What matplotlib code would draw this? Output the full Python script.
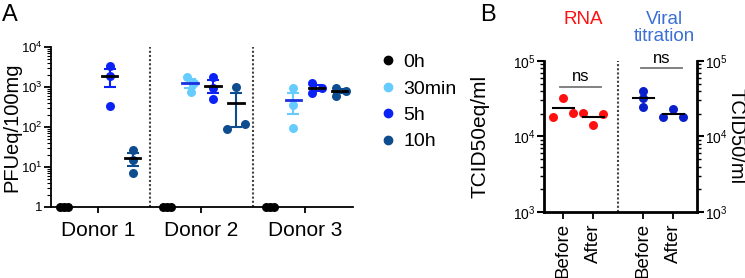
import matplotlib.pyplot as plt
import numpy as np
from matplotlib.lines import Line2D
from matplotlib.ticker import LogLocator, NullFormatter

plt.rcParams['font.family'] = ['Liberation Sans', 'DejaVu Sans']
plt.rcParams['mathtext.default'] = 'regular'

# ---- panel A data ----
donors = ['Donor 1', 'Donor 2', 'Donor 3']
times = ['0h', '30min', '5h', '10h']
time_colors = ['#000000', '#66ccff', '#0a22f5', '#0d4c8f']
mean_colors = ['#000000', '#1a2fe0', '#000000', '#000000']

pfu_d1 = [[1, 1, 1], [], [3400, 1900, 340], [27, 15, 7.2]]
pfu_d2 = [[1, 1, 1], [1810, 1280, 740], [1810, 960, 490], [1000, 118, 88]]
pfu_d3 = [[1, 1, 1], [960, 355, 96], [1240, 930, 700], [930, 810, 610]]
pfu = [pfu_d1, pfu_d2, pfu_d3]

# ---- panel B data ----
b_labels = ['Before', 'After', 'Before', 'After']
rna_before = [18400, 32700, 20400]
rna_after = [20400, 14300, 19800]
tit_before = [40200, 32100, 24900]
tit_after = [18000, 23000, 18000]
b_series = [rna_before, rna_after, tit_before, tit_after]
b_colors = ['#ff1010', '#ff1010', '#0a1fcc', '#0a1fcc']

fig = plt.figure(figsize=(7.45, 2.78), dpi=100)

# ================= Panel A =================
axA = fig.add_axes([0.0685, 0.2554, 0.4054, 0.5755])
group_step = 4.5
# small horizontal spread of the dots (in category units)
jit = {
    (0, 0): [-0.17, 0, 0.17], (0, 2): [0, 0, 0], (0, 3): [0, 0, 0],
    (1, 0): [-0.17, 0, 0.17], (1, 1): [-0.12, 0.17, 0.03], (1, 2): [0, 0, 0],
    (1, 3): [0.0, 0.4, -0.4],
    (2, 0): [-0.17, 0, 0.17], (2, 1): [0, 0, 0], (2, 2): [-0.2, 0.25, -0.2],
    (2, 3): [-0.15, 0.3, -0.15],
}
for d in range(3):
    for t in range(4):
        vals = pfu[d][t]
        if not vals:
            continue
        x0 = d * group_step + t
        offs = jit.get((d, t), [0] * len(vals))
        xs = [x0 + o for o in offs]
        axA.scatter(xs, vals, s=42, color=time_colors[t], zorder=3,
                    clip_on=False, linewidths=0)
        if t == 0:
            continue
        m = np.mean(vals)
        sem = np.std(vals, ddof=1) / np.sqrt(len(vals))
        axA.errorbar([x0], [m], yerr=[[sem], [sem]], fmt='none',
                     ecolor=time_colors[t], elinewidth=1.5, capsize=4,
                     capthick=1.5, zorder=4)
        axA.plot([x0 - 0.33, x0 + 0.33], [m, m], color=mean_colors[t],
                 lw=2, zorder=5)

for d in range(1, 3):
    xs = d * group_step - 0.75
    axA.axvline(xs, color='#444444', lw=1.5, ls=(0, (1, 1)), zorder=1)

axA.set_yscale('log')
axA.set_ylim(1, 1e4)
axA.set_xlim(-0.55, 12.6)
axA.set_yticks([1, 10, 100, 1000, 10000])
axA.set_yticklabels(['1', '$10^1$', '$10^2$', '$10^3$', '$10^4$'], fontsize=9.5)
axA.yaxis.set_minor_locator(LogLocator(base=10, subs=np.arange(2, 10)))
axA.yaxis.set_minor_formatter(NullFormatter())
axA.set_xticks([d * group_step + 1.5 for d in range(3)])
axA.set_xticklabels(donors, fontsize=15)
axA.set_ylabel('PFUeq/100mg', fontsize=14.5)
axA.yaxis.set_label_coords(-0.097, 0.5)
for s in ['top', 'right']:
    axA.spines[s].set_visible(False)
for s in ['left', 'bottom']:
    axA.spines[s].set_linewidth(1.3)
axA.tick_params(axis='x', length=4, width=1.3, pad=6)
axA.tick_params(axis='y', which='major', length=5, width=1.3, pad=1)
axA.tick_params(axis='y', which='minor', length=3, width=0.8)

handles = [Line2D([], [], marker='o', ls='none', color=c, markersize=6)
           for c in time_colors]
fig.legend(handles, times, loc='upper left', bbox_to_anchor=(0.497, 0.835),
           frameon=False, fontsize=14, handletextpad=0.3, labelspacing=0.45,
           handlelength=1.0, borderaxespad=0)

fig.text(0.003, 0.985, 'A', fontsize=17, va='top', ha='left')

# ================= Panel B =================
axB = fig.add_axes([0.7302, 0.2374, 0.205, 0.5432])
bx = [0, 1, 2.667, 3.667]
b_jit = [[-0.33, 0, 0.33], [-0.33, 0, 0.33], [0, 0, 0], [-0.33, 0, 0.33]]
for i in range(4):
    xs = [bx[i] + o for o in b_jit[i]]
    axB.scatter(xs, b_series[i], s=42, color=b_colors[i], zorder=3,
                linewidths=0)
    m = np.mean(b_series[i])
    axB.plot([bx[i] - 0.35, bx[i] + 0.35], [m, m], color='black', lw=1.5,
             zorder=4)

axB.axvline(1.833, color='#444444', lw=1.5, ls=(0, (1, 1)))

# significance bars
axB.plot([-0.1, 1.25], [45700, 45700], color='#777777', lw=1.3)
axB.text(0.575, 50000, 'ns', ha='center', va='bottom', fontsize=12)
axB.plot([2.6, 3.95], [80100, 80100], color='#777777', lw=1.3, clip_on=False)
axB.text(3.275, 87000, 'ns', ha='center', va='bottom', fontsize=12)

axB.set_yscale('log')
axB.set_ylim(1e3, 1e5)
axB.set_xlim(-0.64, 4.45)
axB.set_xticks(bx)
axB.set_xticklabels(b_labels, rotation=90, fontsize=13.5)
axB.set_yticks([1e3, 1e4, 1e5])
axB.set_yticklabels(['$10^3$', '$10^4$', '$10^5$'], fontsize=10)
axB.yaxis.set_minor_locator(LogLocator(base=10, subs=np.arange(2, 10)))
axB.yaxis.set_minor_formatter(NullFormatter())
axB.set_ylabel('TCID50eq/ml', fontsize=15)
axB.yaxis.set_label_coords(-0.354, 0.5)
axB.spines['top'].set_visible(False)
axB.spines['right'].set_visible(False)
for s in ['left', 'bottom']:
    axB.spines[s].set_linewidth(2)
axB.tick_params(axis='x', length=5, width=1.3, pad=3)
axB.tick_params(axis='y', which='major', length=5, width=1.5, pad=1)
axB.tick_params(axis='y', which='minor', length=3, width=1)

axR = axB.twinx()
axR.set_yscale('log')
axR.set_ylim(1e3, 1e5)
axR.set_yticks([1e3, 1e4, 1e5])
axR.set_yticklabels(['$10^3$', '$10^4$', '$10^5$'], fontsize=10)
axR.yaxis.set_minor_locator(LogLocator(base=10, subs=np.arange(2, 10)))
axR.yaxis.set_minor_formatter(NullFormatter())
axR.set_ylabel('TCID50/ml', fontsize=14.5, rotation=-90, va='center')
axR.yaxis.set_label_coords(1.255, 0.5)
axR.spines['top'].set_visible(False)
axR.spines['left'].set_visible(False)
axR.spines['bottom'].set_visible(False)
axR.spines['right'].set_linewidth(2)
axR.tick_params(axis='y', which='major', length=5, width=1.5, pad=1)
axR.tick_params(axis='y', which='minor', length=3, width=1)

fig.text(0.783, 0.96, 'RNA', color='#ff1010', fontsize=13.5, ha='center',
         va='top')
fig.text(0.892, 0.96, 'Viral\ntitration', color='#3a6fd8', fontsize=13.5,
         ha='center', va='top', linespacing=1.0)
fig.text(0.645, 0.985, 'B', fontsize=17, va='top', ha='left')

fig.savefig('out.png', dpi=100)
